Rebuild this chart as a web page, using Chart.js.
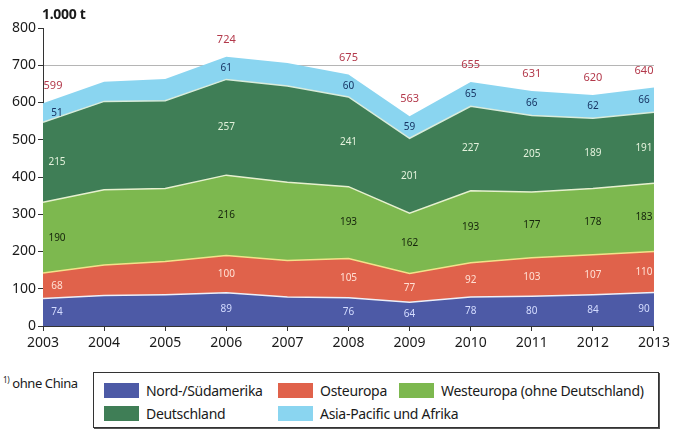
<!DOCTYPE html>
<html>
<head>
<meta charset="utf-8">
<script src="https://cdn.jsdelivr.net/npm/chart.js@4.4.1/dist/chart.umd.min.js"></script>
<style>
  html, body { margin: 0; padding: 0; background: #fff; }
  body { width: 674px; height: 439px; position: relative; overflow: hidden; font-family: 'Noto Sans', sans-serif; color: #1a1a1a; }
  #wrap { position: absolute; left: 0; top: 0; width: 674px; height: 360px; }
  #unit { position: absolute; left: 42px; top: 4px; font-weight: bold; font-size: 14px; letter-spacing: -0.3px; }
  #note { position: absolute; left: 3px; top: 374px; font-size: 13px; letter-spacing: -0.4px; }
  #note sup { font-size: 8px; }
  #legend { position: absolute; left: 93px; top: 372px; width: 564px; height: 54px; border: 1px solid #333; box-shadow: 1px 1px 0 #555; }
  .item { position: absolute; font-size: 14px; letter-spacing: -0.3px; line-height: 15px; white-space: nowrap; }
  .item i { display: inline-block; width: 35px; height: 15px; vertical-align: top; margin-right: 7px; }
</style>
</head>
<body>
<div id="wrap"><canvas id="chart" width="674" height="360"></canvas></div>
<div id="unit">1.000 t</div>
<div id="note"><sup>1)</sup> ohne China</div>
<div id="legend"></div>
<script>
  // Jahre und Werte (1.000 t)
  var years = ['2003', '2004', '2005', '2006', '2007', '2008', '2009', '2010', '2011', '2012', '2013'];
  var amerika = [74, 82, 84, 89, 78, 76, 64, 78, 80, 84, 90];
  var osteuropa = [68, 82, 89, 100, 98, 105, 77, 92, 103, 107, 110];
  var westeuropa = [190, 202, 196, 216, 210, 193, 162, 193, 177, 178, 183];
  var deutschland = [215, 237, 236, 257, 258, 241, 201, 227, 205, 189, 191];
  var asien = [51, 53, 58, 61, 62, 60, 59, 65, 66, 62, 66];
  var totals = [599, null, null, 724, null, 675, 563, 655, 631, 620, 640];
  var yTicks = [0, 100, 200, 300, 400, 500, 600, 700, 800];

  var seriesNames = ['Nord-/Südamerika', 'Osteuropa', 'Westeuropa (ohne Deutschland)', 'Deutschland', 'Asia-Pacific und Afrika'];
  var seriesData = [amerika, osteuropa, westeuropa, deutschland, asien];
  var fillColors = ['#4d5aa6', '#e0624b', '#7db84f', '#3f7e56', '#8ad5f0'];
  var edgeColors = ['#eef0f8', '#f2e28a', '#e6f0cf', '#d9ecdc', '#8ad5f0'];
  var textColors = ['#d4dcff', '#ffe0d4', '#15240c', '#e4f2dc', '#173463'];

  var datasets = seriesData.map(function (d, i) {
    return {
      label: seriesNames[i],
      data: d,
      backgroundColor: fillColors[i],
      borderColor: edgeColors[i],
      borderWidth: i === 4 ? 0 : 1.5,
      pointRadius: 0,
      tension: 0,
      fill: i === 0 ? 'origin' : '-1'
    };
  });

  var valueLabels = {
    id: 'valueLabels',
    afterDatasetsDraw: function (chart) {
      var c = chart.ctx;
      var xs = chart.scales.x;
      var ys = chart.scales.y;
      c.save();
      c.textAlign = 'center';
      c.textBaseline = 'middle';
      totals.forEach(function (t, idx) {
        if (t === null) return;
        var x = xs.getPixelForValue(idx);
        if (idx === 0) x += 14;
        if (idx === years.length - 1) x -= 10;
        var base = 0;
        c.font = '10px "Noto Sans", sans-serif';
        seriesData.forEach(function (d, s) {
          var y0 = ys.getPixelForValue(base);
          var y1 = ys.getPixelForValue(base + d[idx]);
          c.fillStyle = textColors[s];
          c.fillText(String(d[idx]), x, (y0 + y1) / 2);
          base += d[idx];
        });
        c.font = '11px "Noto Sans", sans-serif';
        c.fillStyle = '#b3394b';
        c.fillText(String(t), idx === 0 ? x - 4 : x, ys.getPixelForValue(base) - 17);
      });
      c.restore();
    }
  };

  new Chart(document.getElementById('chart'), {
    type: 'line',
    data: { labels: years, datasets: datasets },
    plugins: [valueLabels],
    options: {
      responsive: false,
      animation: false,
      layout: { padding: { top: 28, right: 19, left: 0, bottom: 0 } },
      plugins: { legend: { display: false }, tooltip: { enabled: false } },
      scales: {
        x: {
          offset: false,
          afterFit: function (s) { s.height = 34; },
          grid: { drawOnChartArea: false, tickLength: 5, tickColor: '#333' },
          border: { display: true, color: '#333', width: 1 },
          ticks: { color: '#1a1a1a', padding: 4, maxRotation: 0, font: { family: 'Noto Sans', size: 14 } }
        },
        y: {
          stacked: true,
          min: 0,
          max: 800,
          afterFit: function (s) { s.width = 43; },
          afterBuildTicks: function (s) {
            s.ticks = yTicks.map(function (v) { return { value: v }; });
          },
          grid: {
            tickLength: 5,
            tickColor: '#333',
            color: function (ctx) { return ctx.tick && ctx.tick.value === 700 ? '#b5b5b5' : 'rgba(0,0,0,0)'; }
          },
          border: { display: true, color: '#333', width: 1 },
          ticks: { color: '#1a1a1a', padding: 2, font: { family: 'Noto Sans', size: 14 } }
        }
      }
    }
  });

  // Legende aus den Reihen
  var legendPos = [[10, 10], [184, 10], [305, 10], [10, 33], [184, 33]];
  var lg = document.getElementById('legend');
  seriesNames.forEach(function (n, i) {
    var el = document.createElement('div');
    el.className = 'item';
    el.style.left = legendPos[i][0] + 'px';
    el.style.top = legendPos[i][1] + 'px';
    el.innerHTML = '<i style="background:' + fillColors[i] + '"></i>' + n;
    lg.appendChild(el);
  });
</script>
</body>
</html>
